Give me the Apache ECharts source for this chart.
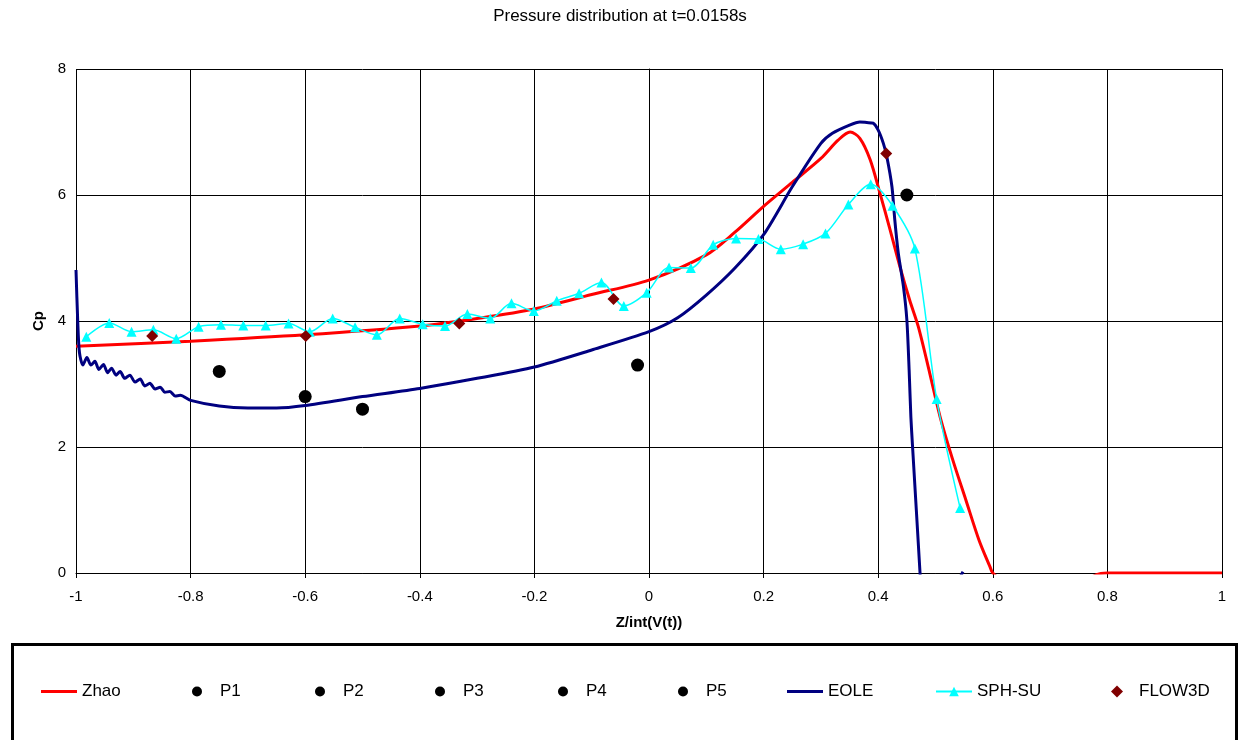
<!DOCTYPE html>
<html lang="en">
<head>
    <meta charset="UTF-8">
    <title>Pressure distribution</title>
    <script src="https://cdn.jsdelivr.net/npm/echarts@6/dist/echarts.min.js"></script>
    <style>
        html, body { margin: 0; padding: 0; background: #fff; }
        #main { width: 1240px; height: 740px; }
    </style>
</head>
<body>
<div id="main"></div>
<script>
    // data
    var xTicks = [-1, -0.8, -0.6, -0.4, -0.2, 0, 0.2, 0.4, 0.6, 0.8, 1];
    var yTicks = [0, 2, 4, 6, 8];

    var zhaoX = [-1, -0.8, -0.6, -0.4, -0.3, -0.2, -0.1, 0, 0.1, 0.15, 0.2, 0.25, 0.3, 0.33, 0.351,
        0.368, 0.386, 0.403, 0.421, 0.438, 0.455, 0.47, 0.49, 0.508, 0.53, 0.553, 0.576, 0.595, 0.6,
        0.65, 0.7, 0.75, 0.78, 0.8, 1];
    var zhaoY = [3.6, 3.68, 3.78, 3.92, 4.04, 4.19, 4.42, 4.65, 5.05, 5.41, 5.82, 6.2, 6.58, 6.87, 7.0,
        6.9, 6.56, 6.03, 5.44, 4.86, 4.33, 3.91, 3.17, 2.48, 1.8, 1.16, 0.52, 0.1, 0,
        -0.4, -0.5, -0.2, -0.03, 0, 0];

    var eoleX = [-1, -0.997, -0.994, -0.988, -0.981, -0.974, -0.967, -0.96, -0.952, -0.945, -0.938,
        -0.93, -0.923, -0.915, -0.906, -0.897, -0.888, -0.88, -0.871, -0.862, -0.853, -0.845,
        -0.836, -0.827, -0.818, -0.8, -0.75, -0.7, -0.65, -0.6, -0.5, -0.4, -0.3, -0.2, -0.1, 0,
        0.05, 0.1, 0.15, 0.2, 0.25, 0.3, 0.32, 0.35, 0.368, 0.38, 0.391, 0.4, 0.409, 0.415, 0.424,
        0.429, 0.435, 0.444, 0.45, 0.454, 0.457, 0.46, 0.473, 0.485, 0.52, 0.54, 0.548];
    var eoleY = [4.81, 4.0, 3.5, 3.3, 3.42, 3.3, 3.36, 3.23, 3.31, 3.18, 3.25,
        3.14, 3.2, 3.09, 3.14, 3.03, 3.08, 2.97, 3.01, 2.92, 2.95, 2.87,
        2.88, 2.81, 2.82, 2.74, 2.65, 2.62, 2.62, 2.66, 2.8, 2.93, 3.09, 3.27, 3.54, 3.83,
        4.05, 4.41, 4.84, 5.37, 6.13, 6.82, 6.98, 7.11, 7.16, 7.15, 7.14, 7.03, 6.82, 6.61, 6.13,
        5.6, 5.08, 4.55, 4.02, 3.22, 2.48, 2.0, 0, -2, -0.6, -0.12, 0.02];

    var sphX = [-0.982, -0.942, -0.903, -0.865, -0.825, -0.786, -0.747, -0.708, -0.669, -0.629,
        -0.592, -0.552, -0.513, -0.475, -0.435, -0.395, -0.356, -0.317, -0.277, -0.24, -0.201,
        -0.161, -0.122, -0.083, -0.044, -0.004, 0.035, 0.073, 0.112, 0.152, 0.191, 0.23, 0.269,
        0.308, 0.348, 0.387, 0.425, 0.464, 0.502, 0.543];
    var sphY = [3.75, 3.97, 3.83, 3.86, 3.72, 3.91, 3.94, 3.93, 3.93, 3.96,
        3.83, 4.04, 3.9, 3.78, 4.04, 3.95, 3.92, 4.11, 4.04, 4.28, 4.16,
        4.32, 4.44, 4.61, 4.24, 4.45, 4.85, 4.84, 5.21, 5.31, 5.3, 5.14, 5.22,
        5.39, 5.85, 6.17, 5.83, 5.15, 2.76, 1.03];

    var flowX = [-0.867, -0.599, -0.331, -0.062, 0.414];
    var flowY = [3.76, 3.76, 3.96, 4.35, 6.66];

    var pNames = ['P1', 'P2', 'P3', 'P4', 'P5'];
    var pX = [-0.75, -0.6, -0.5, -0.02, 0.45];
    var pY = [3.2, 2.8, 2.6, 3.3, 6.0];

    function pairs(xs, ys) {
        var out = [];
        for (var i = 0; i < xs.length; i++) out.push([xs[i], ys[i]]);
        return out;
    }

    var font = 'Liberation Sans, Arial, sans-serif';
    var myChart = echarts.init(document.getElementById('main'), null, {renderer: 'canvas'});

    var series = [{
        name: 'Zhao', type: 'line', data: pairs(zhaoX, zhaoY),
        symbol: 'none', smooth: 0.3, clip: true,
        lineStyle: {color: '#ff0000', width: 3}, itemStyle: {color: '#ff0000'}, z: 2
    }];
    pNames.forEach(function (n, i) {
        series.push({
            name: n, type: 'scatter', data: [[pX[i], pY[i]]],
            symbol: 'circle', symbolSize: 13, itemStyle: {color: '#000', opacity: 1}, z: 3
        });
    });
    series.push({
        name: 'EOLE', type: 'line', data: pairs(eoleX, eoleY),
        symbol: 'none', smooth: 0.25, clip: true,
        lineStyle: {color: '#000080', width: 3}, itemStyle: {color: '#000080'}, z: 4
    });
    series.push({
        name: 'SPH-SU', type: 'line', data: pairs(sphX, sphY),
        symbol: 'triangle', symbolSize: 10, showAllSymbol: true, smooth: 0.3, clip: true,
        lineStyle: {color: '#00ffff', width: 1.5}, itemStyle: {color: '#00ffff', opacity: 1}, z: 5
    });
    series.push({
        name: 'FLOW3D', type: 'scatter', data: pairs(flowX, flowY),
        symbol: 'diamond', symbolSize: 12, itemStyle: {color: '#800000', opacity: 1}, z: 6
    });

    // one legend per entry so each sits where it does in the picture
    var legendSpots = [
        {name: 'Zhao', left: 41, w: 36, h: 3, icon: 'rect'},
        {name: 'P1', left: 192, w: 36, h: 10},
        {name: 'P2', left: 315, w: 36, h: 10},
        {name: 'P3', left: 435, w: 36, h: 10},
        {name: 'P4', left: 558, w: 36, h: 10},
        {name: 'P5', left: 678, w: 36, h: 10},
        {name: 'EOLE', left: 787, w: 36, h: 3, icon: 'rect'},
        {name: 'SPH-SU', left: 935, w: 36, h: 12},
        {name: 'FLOW3D', left: 1111, w: 12, h: 12, pad: 11}
    ];
    var legends = legendSpots.map(function (s) {
        var item = {name: s.name};
        if (s.icon) item.icon = s.icon;
        return {
            data: [item], left: s.left, top: 683, padding: 0,
            itemWidth: s.w, itemHeight: s.h, selectedMode: false,
            textStyle: {fontSize: 17, color: '#000', fontFamily: font,
                padding: [0, 0, 0, s.pad || 0]}
        };
    });

    var option = {
        backgroundColor: '#fff',
        animation: false,
        title: {
            text: 'Pressure distribution at t=0.0158s',
            left: 'center', top: 3,
            textStyle: {fontSize: 17, fontWeight: 'normal', color: '#000', fontFamily: font}
        },
        legend: legends,
        graphic: [{
            type: 'rect', left: 10, top: 642, silent: true,
            shape: {width: 1224, height: 200},
            style: {fill: 'none', stroke: '#000', lineWidth: 3}
        }],
        grid: {left: 76, right: 18, top: 69, bottom: 167, containLabel: false},
        xAxis: {
            type: 'value', min: xTicks[0], max: xTicks[xTicks.length - 1], interval: 0.2,
            name: 'Z/int(V(t))', nameLocation: 'middle', nameGap: 42,
            nameTextStyle: {fontSize: 15, fontWeight: 'bold', color: '#000', fontFamily: font},
            axisLine: {onZero: false, lineStyle: {color: '#000', width: 1}},
            axisTick: {show: true, length: 5, lineStyle: {color: '#000'}},
            axisLabel: {fontSize: 15, color: '#000', fontFamily: font, margin: 16},
            splitLine: {show: true, lineStyle: {color: '#000', width: 1}}
        },
        yAxis: {
            type: 'value', min: yTicks[0], max: yTicks[yTicks.length - 1], interval: 2,
            name: 'Cp', nameLocation: 'middle', nameGap: 30, nameRotate: 90,
            nameTextStyle: {fontSize: 15, fontWeight: 'bold', color: '#000', fontFamily: font},
            axisLine: {show: true, lineStyle: {color: '#000', width: 1}},
            axisTick: {show: true, length: 5, lineStyle: {color: '#000'}},
            axisLabel: {fontSize: 15, color: '#000', fontFamily: font, margin: 10},
            splitLine: {show: true, lineStyle: {color: '#000', width: 1}}
        },
        series: series
    };

    myChart.setOption(option);
</script>
</body>
</html>
